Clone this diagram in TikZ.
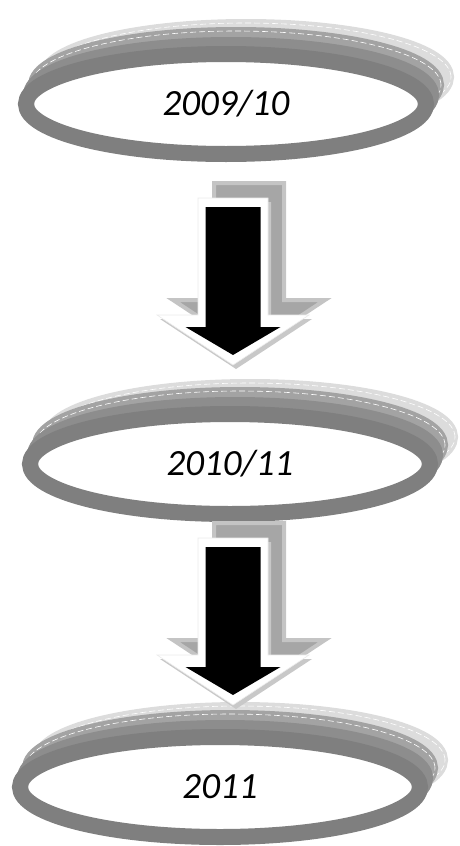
\documentclass[tikz,border=0pt]{standalone}
\usepackage{fontspec}
\setmainfont{Carlito}
\usetikzlibrary{shapes.geometric,calc}
\definecolor{ringfront}{HTML}{7F7F7F}
\definecolor{ringA}{HTML}{DCDCDC}
\definecolor{ringB}{HTML}{A3A3A3}
\definecolor{ringC}{HTML}{8D8D8D}
\definecolor{arrback}{HTML}{A6A6A6}
\definecolor{arrbackedge}{HTML}{C4C4C4}
\definecolor{arrshadow}{HTML}{C8C8C8}
\tikzset{
  ringnode/.style={ellipse, draw=ringfront, fill=white, line width=16pt,
    minimum width=400pt, minimum height=100pt, inner sep=0pt,
    font=\fontsize{37}{44}\selectfont\itshape},
  backring/.style={line width=16pt},
  dashring/.style={draw=white, line width=0.6pt, dash pattern=on 6pt off 3pt},
  pics/downarrow/.style={code={
    \filldraw[fill=arrback, draw=arrbackedge, line width=4pt, line join=miter, shift={(16,-15)}]
      (-35,0) -- (35,0) -- (35,117) -- (76,117) -- (0,167) -- (-76,117) -- (-35,117) -- cycle;
    \fill[arrshadow, shift={(3,4)}]
      (-35,0) -- (35,0) -- (35,117) -- (76,117) -- (0,167) -- (-76,117) -- (-35,117) -- cycle;
    \filldraw[fill=white, draw=black!8, line width=0.6pt]
      (-35,0) -- (35,0) -- (35,117) -- (76,117) -- (0,167) -- (-76,117) -- (-35,117) -- cycle;
    \fill[black]
      (-27.5,9) -- (27.5,9) -- (27.5,129) -- (47.5,129) -- (0,157) -- (-47.5,129) -- (-27.5,129) -- cycle;
  }}
}
\newcommand{\ringlayers}[1]{%
  \draw[backring, draw=ringA] ($(#1)+(20,-27)$) ellipse [x radius=200pt, y radius=50pt];
  \draw[dashring] ($(#1)+(20,-27)$) ellipse [x radius=205pt, y radius=54pt];
  \draw[backring, draw=ringB] ($(#1)+(10,-19)$) ellipse [x radius=200pt, y radius=50pt];
  \draw[dashring] ($(#1)+(10,-19)$) ellipse [x radius=205pt, y radius=54pt];
  \draw[backring, draw=ringC] ($(#1)+(5,-9)$) ellipse [x radius=200pt, y radius=50pt];
}
\begin{document}
\begin{tikzpicture}[x=1pt, y=-1pt]
  \useasboundingbox (0,0) rectangle (460,846);
  \coordinate (c1) at (226,104);
  \coordinate (c2) at (230,464);
  \coordinate (c3) at (220,787);
  \coordinate (a1) at (233,198);
  \coordinate (a2) at (233,538);

  \ringlayers{c1}
  \node[ringnode] (r1) at (c1) {2009/10};

  \ringlayers{c2}
  \node[ringnode] (r2) at (c2) {2010/11};

  \ringlayers{c3}
  \node[ringnode] (r3) at (c3) {2011};

  \pic at (a1) {downarrow};
  \pic at (a2) {downarrow};
\end{tikzpicture}
\end{document}
